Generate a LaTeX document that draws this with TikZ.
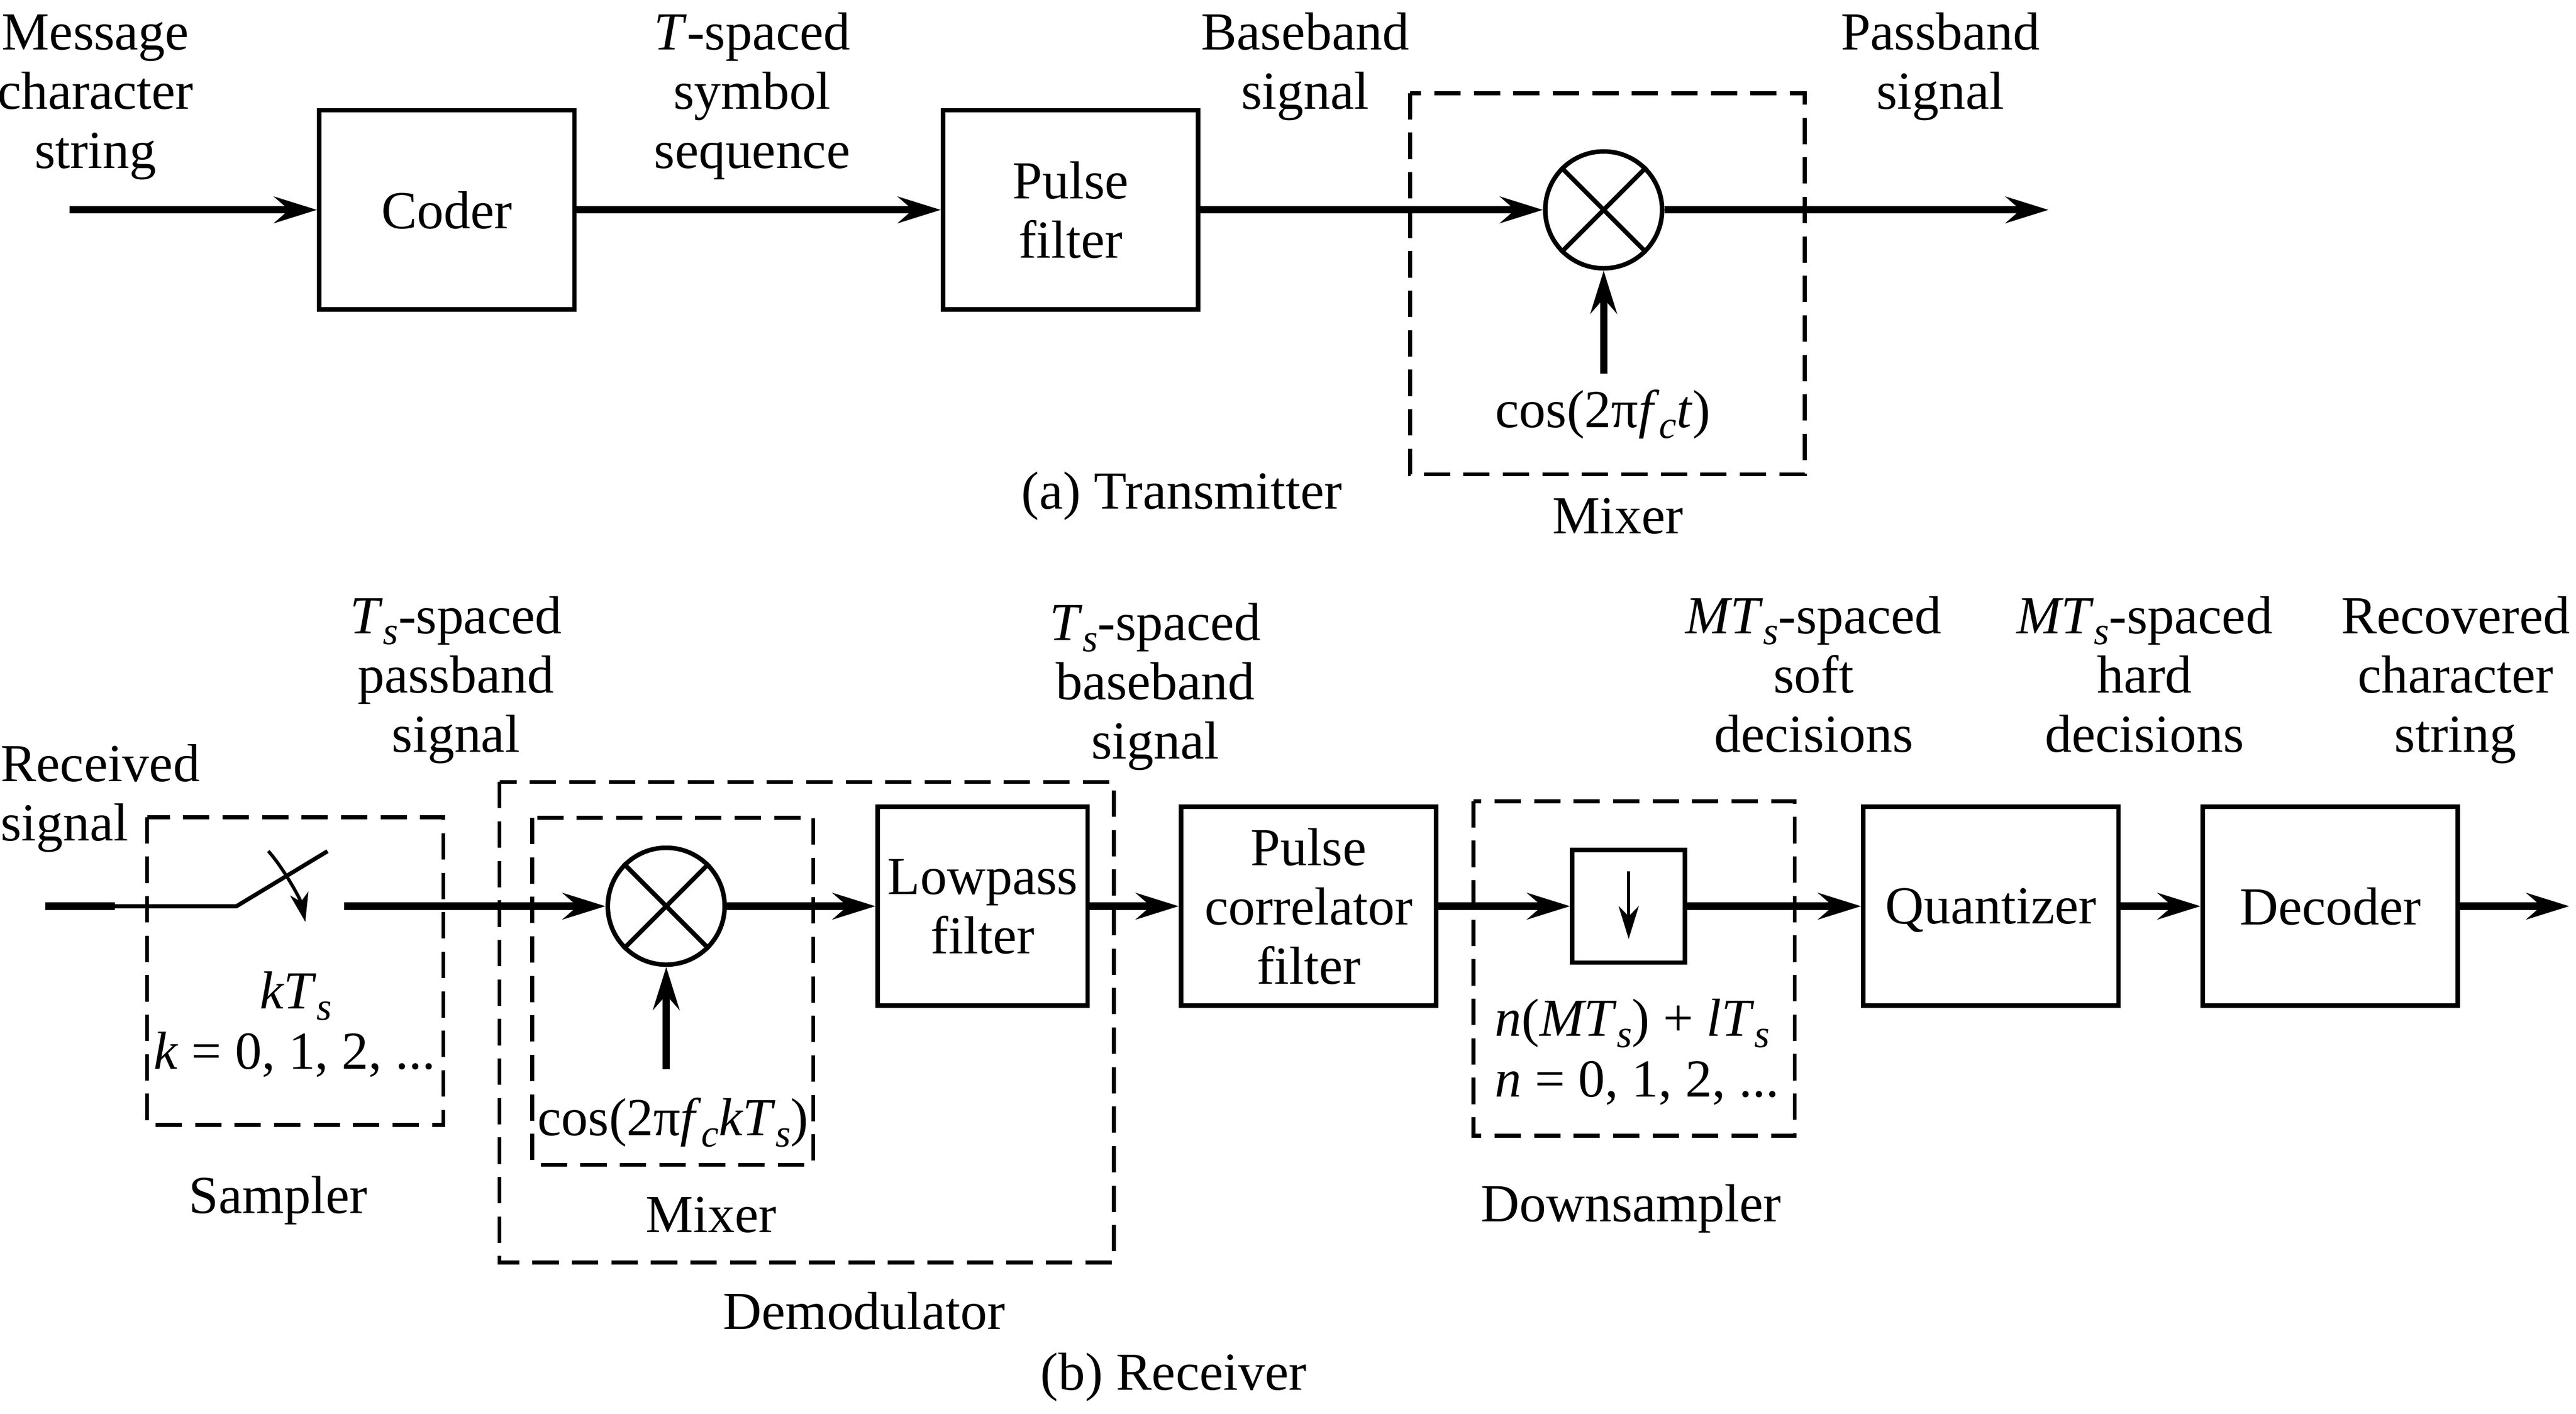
\documentclass[tikz,border=0pt]{standalone}
\usepackage{fontspec}
\setmainfont{Liberation Serif}
\usetikzlibrary{arrows.meta}
\newcommand\subx[1]{\raisebox{-0.45ex}{\fontsize{9.5pt}{10pt}\selectfont\textit{#1}}}
\begin{document}
\begin{tikzpicture}[x=0.4pt, y=-0.4pt,
  every node/.style={font=\fontsize{13pt}{14.4pt}\selectfont, inner sep=0pt},
  blk/.style={draw, line width=1.1pt, minimum height=48.4pt, align=center, text depth=0pt},
  lbl/.style={align=center, anchor=north},
  arr/.style={line width=1.8pt, -{Stealth[length=10.4pt,width=6.4pt,inset=3.6pt]}},
  thickln/.style={line width=1.8pt},
  thinln/.style={line width=1pt},
  grp/.style={line width=0.95pt, dash pattern=on 6.4pt off 3.2pt},
  mix/.style={draw, circle, line width=1.1pt, minimum size=28.4pt},
  cross/.style={line width=1.1pt},
]
\useasboundingbox (0,0) rectangle (1565.2,858.7);

% ---------------- (a) Transmitter ----------------
\node[lbl] (msg) at (58,4.5) {Message\strut\\character\strut\\string\strut};
\node[lbl] (tsym) at (457,4.5) {\textit{T}-spaced\strut\\symbol\strut\\sequence\strut};
\node[lbl] (bb) at (793,4.5) {Baseband\strut\\signal\strut};
\node[lbl] (pb) at (1179,4.5) {Passband\strut\\signal\strut};

\node[blk, minimum width=62pt] (coder) at (271.5,127.5) {Coder};
\node[blk, minimum width=62pt] (pf) at (650.5,127.5) {Pulse\\filter};
\node[mix] (mxa) at (974.4,127.5) {};
\draw[cross] (mxa.45) -- (mxa.225) (mxa.135) -- (mxa.-45);
\coordinate (ina) at (42.3,127.5);
\coordinate (outa) at (1244.7,127.5);
\coordinate (loa) at (974.4,227);
\draw[arr] (ina) -- (coder);
\draw[arr] (coder) -- (pf);
\draw[arr] (pf) -- (mxa);
\draw[arr] (mxa) -- (outa);
\draw[arr] (loa) -- (mxa);
\node[anchor=base] (cosa) at (974,259.6) {cos(2π\textit{f}\subx{c}\textit{t})};
\draw[grp] (856.7,56.6) rectangle (1096.5,288.2);
\node[anchor=base] (mixa) at (983,324) {Mixer};
\node[anchor=base] (tx) at (718,309) {(a) Transmitter};

% ---------------- (b) Receiver ----------------
\node[align=left, anchor=north west] (rx) at (0,449.1) {Received\strut\\signal\strut};
\coordinate (inb) at (27.6,550.5);
\coordinate (swa) at (69.7,550.5);
\coordinate (swb) at (143.7,550.5);
\coordinate (swc) at (199,517.1);
\coordinate (swo) at (209.1,550.5);
\coordinate (cva) at (163,517);
\coordinate (cvb) at (185.5,560);
\draw[thickln] (inb) -- (swa);
\draw[thinln] (swa) -- (swb) -- (swc);
\draw[line width=0.8pt, -{Stealth[length=7pt,width=4.5pt,inset=2pt]}] (cva) .. controls (172,527) and (182.5,546) .. (cvb);
\draw[grp] (89.4,496.4) rectangle (269.4,683.3);
\node[anchor=base] (kts) at (179.7,612.8) {\textit{kT}\subx{s}};
\node[anchor=base] (kval) at (179,649.3) {\textit{k} = 0, 1, 2, ...};
\node[anchor=base] (smp) at (169,737) {Sampler};

\node[lbl] (psl) at (277,359.1) {\textit{T}\subx{s}-spaced\strut\\passband\strut\\signal\strut};
\draw[grp] (303.5,475) rectangle (676.7,767);
\draw[grp] (323.4,496.8) rectangle (494.1,707.6);
\node[mix] (mxb) at (404.8,550.5) {};
\draw[cross] (mxb.45) -- (mxb.225) (mxb.135) -- (mxb.-45);
\coordinate (lob) at (404.8,649.6);
\draw[arr] (swo) -- (mxb);
\draw[arr] (lob) -- (mxb);
\node[anchor=base] (cosb) at (409,689.8) {cos(2π\textit{f}\subx{c}\textit{kT}\subx{s})};
\node[anchor=base] (mixb) at (432,748.6) {Mixer};
\node[blk, minimum width=51pt] (lpf) at (597.1,550.5) {Lowpass\\filter};
\draw[arr] (mxb) -- (lpf);
\node[lbl] (bbl) at (702,363.3) {\textit{T}\subx{s}-spaced\strut\\baseband\strut\\signal\strut};
\node[blk, minimum width=62pt] (pcf) at (795.1,550.5) {Pulse\\correlator\\filter};
\draw[arr] (lpf) -- (pcf);

\draw[grp] (895.3,486.7) rectangle (1090.5,689.9);
\node[draw, line width=1.1pt, minimum size=27.4pt] (ds) at (989.6,550.5) {};
\coordinate (dsa) at (989.6,529.5);
\coordinate (dsb) at (989.6,570.4);
\draw[line width=0.8pt, -{Stealth[length=8pt,width=4.9pt,inset=2.5pt]}] (dsa) -- (dsb);
\draw[arr] (pcf) -- (ds);
\node[anchor=base west] (nmt) at (907.8,629.4) {\textit{n}(\textit{MT}\subx{s}) + \textit{lT}\subx{s}};
\node[anchor=base west] (nval) at (907.8,666.3) {\textit{n} = 0, 1, 2, ...};
\node[anchor=base] (dsl) at (991,741.9) {Downsampler};

\node[blk, minimum width=62pt] (qz) at (1209.7,550.5) {Quantizer};
\node[blk, minimum width=62pt] (dec) at (1415.9,550.5) {Decoder};
\coordinate (outb) at (1561.1,550.5);
\draw[arr] (ds) -- (qz);
\draw[arr] (qz) -- (dec);
\draw[arr] (dec) -- (outb);
\node[lbl] (soft) at (1102,359.1) {\textit{MT}\subx{s}-spaced\strut\\soft\strut\\decisions\strut};
\node[lbl] (hard) at (1303,359.1) {\textit{MT}\subx{s}-spaced\strut\\hard\strut\\decisions\strut};
\node[lbl] (rec) at (1492,359.1) {Recovered\strut\\character\strut\\string\strut};
\node[anchor=base] (dem) at (525,807.4) {Demodulator};
\node[anchor=base] (rxl) at (713,844.3) {(b) Receiver};
\end{tikzpicture}
\end{document}
